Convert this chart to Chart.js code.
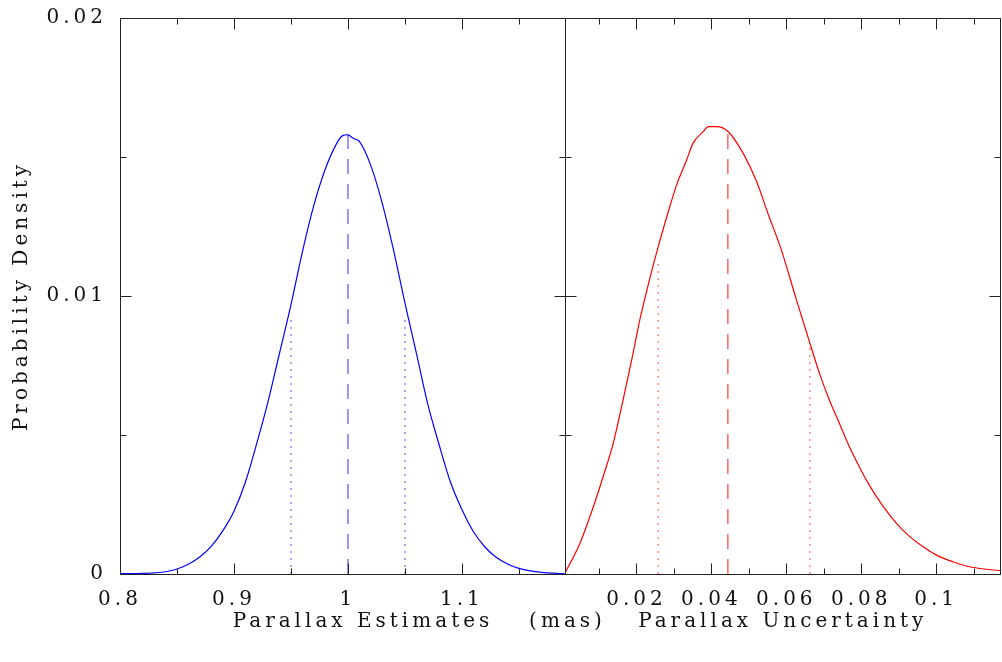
<!DOCTYPE html>
<html>
<head>
<meta charset="utf-8">
<title>Parallax posterior</title>
<script src="https://cdn.jsdelivr.net/npm/chart.js@4.4.1/dist/chart.umd.min.js"></script>
<style>
  html, body { margin: 0; padding: 0; background: #fff; }
  #wrap { width: 1002px; height: 662px; }
</style>
</head>
<body>
<div id="wrap"><canvas id="pdfChart" width="1002" height="662"></canvas></div>
<script>
// left panel: parallax estimates (mas)
const estX = [0.80, 0.81, 0.82, 0.83, 0.84, 0.85, 0.86, 0.87, 0.88, 0.89,
  0.90, 0.91, 0.92, 0.93, 0.94, 0.95, 0.96, 0.97, 0.98, 0.99, 0.995,
  1.00, 1.003, 1.006, 1.01, 1.02, 1.03, 1.04, 1.05, 1.06, 1.07, 1.08, 1.09,
  1.10, 1.11, 1.12, 1.13, 1.14, 1.15, 1.16, 1.17, 1.18, 1.19];
const estY = [0.00001, 0.00001, 0.00002, 0.00004, 0.00008, 0.00018, 0.00035, 0.00061, 0.00099, 0.00154,
  0.00226, 0.00330, 0.00470, 0.00622, 0.00795, 0.00968, 0.01158, 0.01325, 0.01455, 0.01548, 0.01576,
  0.01580, 0.01572, 0.01565, 0.01556, 0.01470, 0.01335, 0.01165, 0.00975, 0.00795, 0.00612, 0.00465, 0.00330,
  0.00232, 0.00153, 0.00098, 0.00060, 0.00036, 0.00020, 0.00011, 0.00006, 0.00003, 0.00001];

// right panel: parallax uncertainty
const uncX = [0.0008, 0.0049, 0.0085, 0.0111, 0.0138, 0.0165, 0.0191, 0.0209, 0.0236, 0.0258,
  0.0289, 0.0307, 0.0334, 0.0351, 0.0378, 0.0392, 0.0414, 0.0445, 0.0485, 0.0521,
  0.0551, 0.0587, 0.0627, 0.0663, 0.0689, 0.0716, 0.0743, 0.0765, 0.0796, 0.0823,
  0.0858, 0.0894, 0.0925, 0.0965, 0.1001, 0.1045, 0.1089, 0.1134, 0.1175];
const uncY = [0, 0.0011, 0.00242, 0.0035, 0.0047, 0.0063, 0.00794, 0.00914, 0.01065, 0.01177,
  0.01321, 0.01399, 0.01489, 0.01549, 0.01591, 0.01609, 0.01609, 0.01591, 0.01513, 0.01411,
  0.01297, 0.01165, 0.00986, 0.0083, 0.0072, 0.00622, 0.00538, 0.00468, 0.00382, 0.00316,
  0.00244, 0.00182, 0.0014, 0.00098, 0.00068, 0.00044, 0.00026, 0.00017, 0.00012];

// summary markers: [position, height]
const estMean = [1.0, 0.0158];
const estLow = [0.95, 0.0093];
const estHigh = [1.05, 0.0093];
const uncMean = [0.0444, 0.0159];
const uncLow = [0.0258, 0.0113];
const uncHigh = [0.0663, 0.0083];

// axes
const estTicks = [0.8, 0.9, 1, 1.1];
const estMinor = [0.85, 0.95, 1.05, 1.15];
const uncTicks = [0.02, 0.04, 0.06, 0.08, 0.1];
const uncMinor = [0.01, 0.03, 0.05, 0.07, 0.09, 0.11];
const yTicks = [0, 0.01, 0.02];
const yMinor = [0.005, 0.015];

const FONT = { family: '"DejaVu Serif", serif', size: 20, weight: 'normal' };

function pts(xs, ys) {
  return xs.map((x, i) => ({ x: x, y: ys[i] }));
}
function marker(m) {
  return [{ x: m[0], y: 0 }, { x: m[0], y: m[1] }];
}

// frame, inward ticks and the shared "(mas)" label
const framePlugin = {
  id: 'frame',
  beforeUpdate(chart) {
    chart.ctx.letterSpacing = '4px';
  },
  afterDraw(chart) {
    const { ctx, chartArea: a, scales } = chart;
    const L = Math.round(a.left) + 0.5, R = Math.round(a.right) - 0.5;
    const T = Math.round(a.top) + 0.5, B = Math.round(a.bottom) + 0.5;
    const M = Math.round(scales.xR.left) + 0.5;
    ctx.save();
    ctx.strokeStyle = '#222';
    ctx.lineWidth = 1;
    ctx.beginPath();
    ctx.rect(L, T, R - L, B - T);
    ctx.moveTo(M, T); ctx.lineTo(M, B);

    function xt(scale, vals, len) {
      vals.forEach(v => {
        const px = Math.round(scale.getPixelForValue(v)) + 0.5;
        ctx.moveTo(px, B); ctx.lineTo(px, B - len);
        ctx.moveTo(px, T); ctx.lineTo(px, T + len);
      });
    }
    xt(scales.xL, estTicks, 11); xt(scales.xL, estMinor, 6);
    xt(scales.xR, uncTicks, 11); xt(scales.xR, uncMinor, 6);

    function yt(vals, len) {
      vals.forEach(v => {
        const py = Math.round(scales.y.getPixelForValue(v)) + 0.5;
        ctx.moveTo(L, py); ctx.lineTo(L + len, py);
        ctx.moveTo(M - len, py); ctx.lineTo(M + len, py);
        ctx.moveTo(R, py); ctx.lineTo(R - len, py);
      });
    }
    yt(yTicks, 11); yt(yMinor, 6);
    ctx.stroke();

    ctx.fillStyle = '#111';
    ctx.font = '20px "DejaVu Serif", serif';
    ctx.textAlign = 'center';
    ctx.textBaseline = 'middle';
    ctx.fillText('(mas)', M + 2, 622);
    ctx.restore();
  }
};

function xScale(min, max, weight, ticks, title) {
  return {
    type: 'linear',
    position: 'bottom',
    stack: 'panels',
    stackWeight: weight,
    min: min,
    max: max,
    afterFit: s => { s.height = 88; s.paddingLeft = 0; s.paddingRight = 0; },
    afterBuildTicks: s => { s.ticks = ticks.map(v => ({ value: v })); },
    grid: { display: false, drawTicks: false },
    border: { display: false },
    ticks: { color: '#111', font: FONT, padding: 14, maxRotation: 0, autoSkip: false, includeBounds: false,
      callback: v => String(v) },
    title: { display: true, text: title, color: '#111', font: FONT, padding: { top: 0, bottom: 28 } }
  };
}

const ctx = document.getElementById('pdfChart').getContext('2d');
const curve = { showLine: true, borderWidth: 1.2, pointRadius: 0, cubicInterpolationMode: 'monotone' };
const line = { showLine: true, borderWidth: 1.2, pointRadius: 0 };
const chart = new Chart(ctx, {
  type: 'scatter',
  data: {
    datasets: [
      { ...curve, xAxisID: 'xL', data: pts(estX, estY), borderColor: '#0000ff' },
      { ...line, xAxisID: 'xL', data: marker(estMean), borderColor: 'rgba(40,40,255,0.8)', borderDash: [15, 10] },
      { ...line, xAxisID: 'xL', data: marker(estLow), borderColor: 'rgba(60,60,255,0.75)', borderDash: [2, 5] },
      { ...line, xAxisID: 'xL', data: marker(estHigh), borderColor: 'rgba(60,60,255,0.75)', borderDash: [2, 5] },
      { ...curve, xAxisID: 'xR', data: pts(uncX, uncY), borderColor: '#ff0000' },
      { ...line, xAxisID: 'xR', data: marker(uncMean), borderColor: 'rgba(255,30,30,0.85)', borderDash: [15, 10] },
      { ...line, xAxisID: 'xR', data: marker(uncLow), borderColor: 'rgba(255,60,60,0.75)', borderDash: [2, 5] },
      { ...line, xAxisID: 'xR', data: marker(uncHigh), borderColor: 'rgba(255,60,60,0.75)', borderDash: [2, 5] }
    ]
  },
  options: {
    responsive: false,
    animation: false,
    layout: { padding: { top: 18, right: 1, bottom: 0, left: 0 } },
    plugins: { legend: { display: false }, tooltip: { enabled: false } },
    scales: {
      xL: xScale(0.8, 1.19, 444.5, estTicks, '    Parallax Estimates'),
      xR: xScale(0.0008, 0.1173, 436.5, uncTicks, 'Parallax Uncertainty'),
      y: {
        type: 'linear',
        position: 'left',
        min: 0,
        max: 0.02,
        afterFit: s => { s.width = 120; s.paddingTop = 0; s.paddingBottom = 0; },
        afterBuildTicks: s => { s.ticks = yTicks.map(v => ({ value: v })); },
        grid: { display: false, drawTicks: false },
        border: { display: false },
        ticks: { color: '#111', font: FONT, padding: 13, callback: v => String(v) },
        title: { display: true, text: 'Probability Density', color: '#111', font: FONT, padding: { top: 10, bottom: 0 } }
      }
    }
  },
  plugins: [framePlugin]
});
</script>
</body>
</html>
